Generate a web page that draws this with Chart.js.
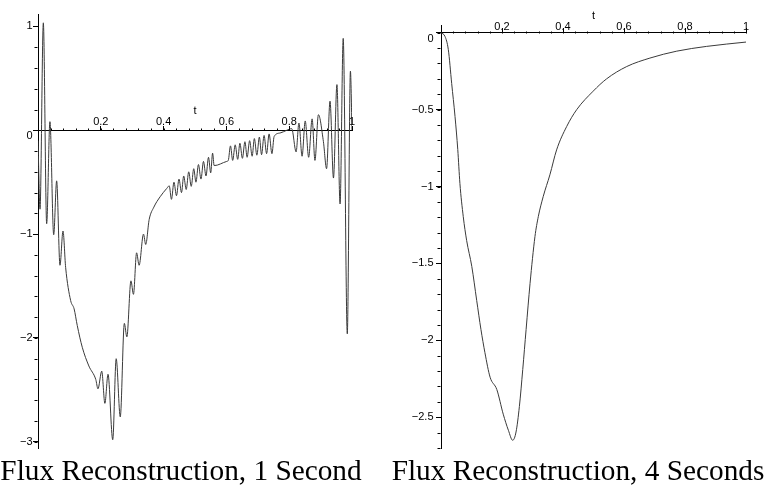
<!DOCTYPE html>
<html>
<head>
<meta charset="utf-8">
<script src="https://cdn.jsdelivr.net/npm/chart.js@4.4.1/dist/chart.umd.min.js"></script>
<style>
  html, body { margin: 0; padding: 0; background: #fff; }
  #wrap { position: relative; width: 764px; height: 485px; overflow: hidden; background: #fff; }
  .panel { position: absolute; top: 0; }
</style>
</head>
<body>
<div id="wrap">
  <div class="panel" style="left:0px;"><canvas id="left" width="382" height="485"></canvas></div>
  <div class="panel" style="left:382px;"><canvas id="right" width="382" height="485"></canvas></div>
</div>
<script>
// ---- Data: Flux Reconstruction, 1 Second ----
const LEFT_T = [
  0, 0.0064, 0.017, 0.0276, 0.038, 0.050, 0.0594, 0.070, 0.0796, 0.088,
  0.104, 0.115, 0.125, 0.141, 0.162, 0.184, 0.191, 0.203, 0.213, 0.223,
  0.238, 0.249, 0.262, 0.275, 0.283, 0.296, 0.304, 0.314, 0.322, 0.336,
  0.343, 0.354, 0.369, 0.389, 0.410, 0.418,
  0.425, 0.433, 0.441, 0.449, 0.457, 0.464, 0.472, 0.480, 0.488, 0.496,
  0.503, 0.511, 0.519, 0.527, 0.535, 0.543, 0.550, 0.556, 0.561,
  0.601,
  0.606, 0.613, 0.620, 0.628, 0.636, 0.643, 0.651, 0.659, 0.666, 0.674,
  0.682, 0.689, 0.697, 0.705, 0.712, 0.720, 0.728, 0.736, 0.745,
  0.752, 0.771, 0.792, 0.808,
  0.822, 0.831, 0.841, 0.851, 0.862, 0.873, 0.882, 0.893, 0.909, 0.919,
  0.930, 0.941, 0.952, 0.962, 0.972, 0.985, 0.995, 1.0
];
const LEFT_FLUX = [
  -0.10, -0.76, 1.035, -0.90, 0.083, -1.006, -0.487, -1.30, -0.97, -1.32,
  -1.64, -1.72, -1.88, -2.09, -2.27, -2.40, -2.49, -2.32, -2.63, -2.35,
  -2.98, -2.20, -2.76, -1.86, -1.99, -1.45, -1.58, -1.18, -1.30, -1.00,
  -1.10, -0.86, -0.74, -0.64, -0.56, -0.535,
  -0.665, -0.50, -0.63, -0.47, -0.60, -0.44, -0.57, -0.40, -0.54, -0.37,
  -0.50, -0.33, -0.47, -0.30, -0.44, -0.26, -0.41, -0.22, -0.34,
  -0.30,
  -0.29, -0.15, -0.29, -0.14, -0.28, -0.125, -0.27, -0.11, -0.26, -0.10,
  -0.25, -0.08, -0.24, -0.065, -0.235, -0.05, -0.225, -0.035, -0.225,
  -0.06, -0.026, 0.0, 0.016,
  -0.208, 0.07, -0.25, 0.09, -0.26, 0.11, -0.29, 0.15, -0.11, -0.37,
  0.28, -0.46, 0.44, -0.71, 0.885, -1.96, 0.57, 0.0
];

// ---- Data: Flux Reconstruction, 4 Seconds ----
const RIGHT_T = [
  0, 0.013, 0.024, 0.035, 0.046, 0.055, 0.062, 0.073, 0.084, 0.101,
  0.117, 0.131, 0.144, 0.161, 0.183, 0.204, 0.221, 0.235, 0.246, 0.257,
  0.268, 0.279, 0.292, 0.308, 0.319, 0.335, 0.357, 0.379, 0.412, 0.445,
  0.499, 0.543, 0.609, 0.685, 0.773, 0.871, 1.0
];
const RIGHT_FLUX = [
  0, -0.024, -0.11, -0.33, -0.545, -0.76, -0.98, -1.196, -1.35, -1.52,
  -1.74, -1.93, -2.08, -2.24, -2.32, -2.48, -2.585, -2.65, -2.596, -2.43,
  -2.19, -1.93, -1.63, -1.326, -1.196, -1.066, -0.924, -0.762, -0.61, -0.50,
  -0.38, -0.30, -0.22, -0.165, -0.12, -0.089, -0.061
];

// ---- Tick labels and captions ----
const X_TICK_VALUES = [0.2, 0.4, 0.6, 0.8, 1];
const X_TICK_LABELS = ['0.2', '0.4', '0.6', '0.8', '1'];
const LEFT_Y_TICK_VALUES = [1, 0, -1, -2, -3];
const LEFT_Y_TICK_LABELS = ['1', '0', '\u22121', '\u22122', '\u22123'];
const RIGHT_Y_TICK_VALUES = [0, -0.5, -1, -1.5, -2, -2.5];
const RIGHT_Y_TICK_LABELS = ['0', '\u22120.5', '\u22121', '\u22121.5', '\u22122', '\u22122.5'];
const AXIS_TITLE = 't';
const CAPTIONS = ['Flux Reconstruction, 1 Second', 'Flux Reconstruction, 4 Seconds'];

const LABEL_FONT = '11px "Liberation Sans", Arial, sans-serif';
const CAPTION_FONT = '29.3px "Liberation Serif", "Times New Roman", serif';

const mapleAxes = {
  id: 'mapleAxes',
  afterDraw(chart, args, o) {
    const xs = chart.scales.x, ys = chart.scales.y, ctx = chart.ctx;
    const y0 = Math.round(ys.getPixelForValue(0)) + 0.5;
    const x0 = Math.round(xs.getPixelForValue(0)) - 0.5;
    ctx.save();
    ctx.strokeStyle = '#000';
    ctx.lineWidth = 1;
    ctx.beginPath();
    for (let k = 1; k * o.xMinor < xs.max + 1e-9; k++) {
      const px = Math.round(xs.getPixelForValue(k * o.xMinor)) + 0.5;
      ctx.moveTo(px, y0);
      ctx.lineTo(px, y0 - 2);
    }
    const kMin = Math.ceil(ys.min / o.yMinor - 1e-9), kMax = Math.floor(ys.max / o.yMinor + 1e-9);
    for (let k = kMin; k <= kMax; k++) {
      const py = Math.round(ys.getPixelForValue(k * o.yMinor)) + 0.5;
      ctx.moveTo(x0, py);
      ctx.lineTo(x0 - 3, py);
    }
    ctx.stroke();

    ctx.fillStyle = '#000';
    ctx.font = LABEL_FONT;
    ctx.textAlign = 'center';
    ctx.textBaseline = 'alphabetic';
    o.xValues.forEach((v, i) => {
      ctx.fillText(o.xLabels[i], xs.getPixelForValue(v), y0 - o.xGap);
    });
    ctx.fillText(AXIS_TITLE, xs.getPixelForValue(0.5), y0 - o.tGap);

    ctx.textAlign = 'right';
    ctx.textBaseline = 'middle';
    o.yValues.forEach((v, i) => {
      const shift = v === 0 ? o.zeroShift : 0;
      ctx.fillText(o.yLabels[i], x0 - o.yGap, ys.getPixelForValue(v) + shift);
    });

    // caption below the plot
    ctx.font = CAPTION_FONT;
    ctx.textAlign = 'center';
    ctx.textBaseline = 'alphabetic';
    ctx.fillText(o.caption, o.captionX, o.captionY);
    ctx.restore();
  }
};

function makeChart(id, tArr, fArr, cfg) {
  const points = tArr.map((t, i) => ({ x: t, y: fArr[i] }));
  return new Chart(document.getElementById(id), {
    type: 'line',
    data: {
      datasets: [{
        data: points,
        borderColor: '#3a3a3a',
        borderWidth: 1,
        pointRadius: 0,
        fill: false,
        cubicInterpolationMode: 'monotone'
      }]
    },
    options: {
      responsive: false,
      animation: false,
      devicePixelRatio: 1,
      layout: { padding: cfg.padding },
      plugins: {
        legend: { display: false },
        tooltip: { enabled: false },
        title: { display: false },
        mapleAxes: cfg.axes
      },
      scales: {
        x: {
          type: 'linear',
          min: 0, max: 1,
          position: { y: 0 },
          ticks: { display: false, stepSize: 0.2 },
          grid: { display: true, drawOnChartArea: false, drawTicks: true, tickLength: -5, color: '#000', tickColor: '#000' },
          border: { display: true, color: '#000', width: 1 },
          afterFit: s => { s.height = 0; }
        },
        y: {
          type: 'linear',
          min: cfg.yMin, max: cfg.yMax,
          position: 'left',
          ticks: { display: false, stepSize: cfg.yStep, includeBounds: false },
          grid: { display: true, drawOnChartArea: false, drawTicks: true, tickLength: 5, color: '#000', tickColor: '#000' },
          border: { display: true, color: '#000', width: 1 },
          afterFit: s => { s.width = cfg.yWidth; }
        }
      }
    },
    plugins: [mapleAxes]
  });
}

makeChart('left', LEFT_T, LEFT_FLUX, {
  padding: { top: 14, right: 30, left: 0, bottom: 37 },
  yMin: -3.06, yMax: 1.12, yStep: 1, yWidth: 38,
  axes: { xMinor: 0.04, yMinor: 0.2, xValues: X_TICK_VALUES, xLabels: X_TICK_LABELS,
          yValues: LEFT_Y_TICK_VALUES, yLabels: LEFT_Y_TICK_LABELS,
          xGap: 6, tGap: 17, yGap: 5, zeroShift: 5.5,
          caption: CAPTIONS[0], captionX: 181, captionY: 480 }
});

makeChart('right', RIGHT_T, RIGHT_FLUX, {
  padding: { top: 25, right: 18, left: 0, bottom: 37 },
  yMin: -2.7, yMax: 0.05, yStep: 0.5, yWidth: 59,
  axes: { xMinor: 0.04, yMinor: 0.1, xValues: X_TICK_VALUES, xLabels: X_TICK_LABELS,
          yValues: RIGHT_Y_TICK_VALUES, yLabels: RIGHT_Y_TICK_LABELS,
          xGap: 4, tGap: 15, yGap: 7, zeroShift: 6.5,
          caption: CAPTIONS[1], captionX: 196, captionY: 480 }
});
</script>
</body>
</html>
